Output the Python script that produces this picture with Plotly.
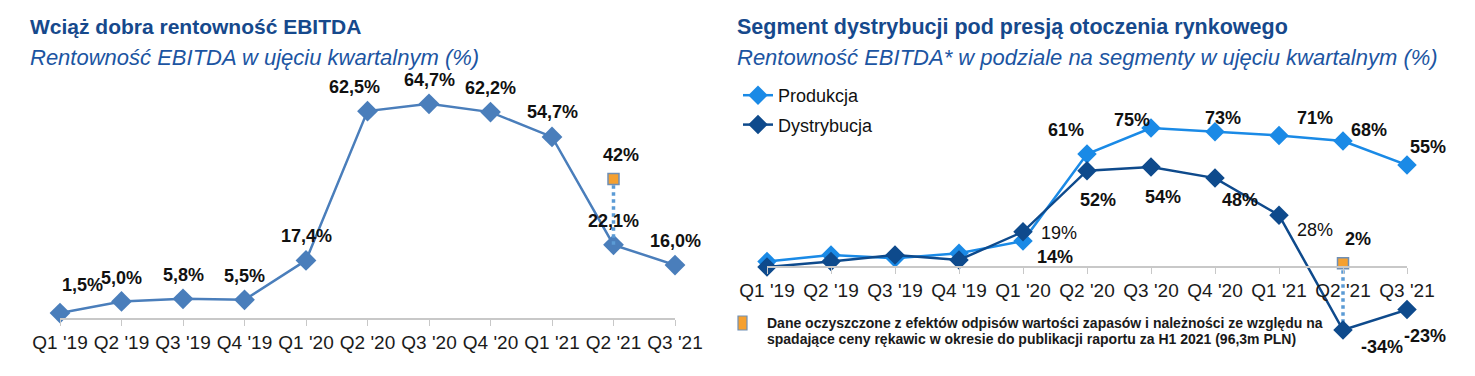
import plotly.graph_objects as go

# ---------------- data ----------------
quarters = ["Q1 '19", "Q2 '19", "Q3 '19", "Q4 '19", "Q1 '20", "Q2 '20",
            "Q3 '20", "Q4 '20", "Q1 '21", "Q2 '21", "Q3 '21"]

ebitda_margin = [1.5, 5.0, 5.8, 5.5, 17.4, 62.5, 64.7, 62.2, 54.7, 22.1, 16.0]
ebitda_labels = ["1,5%", "5,0%", "5,8%", "5,5%", "17,4%", "62,5%",
                 "64,7%", "62,2%", "54,7%", "22,1%", "16,0%"]
adjusted_quarter = "Q2 '21"
adjusted_ebitda = 42
adjusted_ebitda_label = "42%"

produkcja = [3, 6.5, 4.7, 7.4, 14, 61, 75, 73, 71, 68, 55]
produkcja_labels = ["", "", "", "", "14%", "61%", "75%", "73%", "71%", "68%", "55%"]
dystrybucja = [0, 3, 6.5, 3.8, 19, 52, 54, 48, 28, -34, -23]
dystrybucja_labels = ["", "", "", "", "19%", "52%", "54%", "48%", "28%", "-34%", "-23%"]
adjusted_dystrybucja = 2
adjusted_dystrybucja_label = "2%"

# ---------------- styling / label offsets (pixels) ----------------
W, H = 1475, 376
PAGE_OFFSET = 8  # default body margin of the html page

def px(x):
    return (x - PAGE_OFFSET) / W
def py(y):
    return (H - (y - PAGE_OFFSET)) / H

FONT = "Liberation Sans, Arial, sans-serif"
C_LEFT = "#4a7ebb"
C_PROD = "#1a8ae6"
C_DYST = "#0e4a8c"
C_DOT = "#5b9bd5"
C_ORANGE = "#f5a030"
C_TITLE = "#16498c"
C_SUB = "#1c55a2"

left_offsets = [(22, 28), (0, 23), (0, 24), (0, 24), (0, 24), (-13, 24),
                (0, 24), (0, 24), (0, 25), (0, 24), (0, 24)]
prod_offsets = [(0, 0)] * 4 + [(32, -16), (-21, 24), (-19, 8), (8, 14), (36, 17), (26, 11), (21, 18)]
dyst_offsets = [(0, 0)] * 4 + [(36, -1), (11, -29), (12, -30), (25, -22), (36, -15), (39, -17), (18, -26)]
dyst_bold = [True] * 11
dyst_bold[4] = False
dyst_bold[8] = False

fig = go.Figure()

# ---------- left chart ----------
fig.add_trace(go.Scatter(
    x=quarters, y=ebitda_margin, mode="lines+markers",
    line=dict(color=C_LEFT, width=2.5),
    marker=dict(symbol="diamond", size=16, color=C_LEFT),
    showlegend=False, xaxis="x", yaxis="y", cliponaxis=False))
fig.add_trace(go.Scatter(
    x=[adjusted_quarter, adjusted_quarter],
    y=[ebitda_margin[quarters.index(adjusted_quarter)], adjusted_ebitda],
    mode="lines", line=dict(color=C_DOT, width=3.5, dash="dot"),
    showlegend=False, hoverinfo="skip", xaxis="x", yaxis="y", cliponaxis=False))
fig.add_trace(go.Scatter(
    x=[adjusted_quarter], y=[adjusted_ebitda], mode="markers",
    marker=dict(symbol="square", size=11, color=C_ORANGE,
                line=dict(color="#6f8fb5", width=1.5)),
    showlegend=False, xaxis="x", yaxis="y", cliponaxis=False))

# ---------- right chart ----------
fig.add_trace(go.Scatter(
    x=quarters, y=produkcja, mode="lines+markers", name="Produkcja",
    line=dict(color=C_PROD, width=2.5),
    marker=dict(symbol="diamond", size=15, color=C_PROD),
    legendgroup="a", xaxis="x2", yaxis="y2", cliponaxis=False))
fig.add_trace(go.Scatter(
    x=[adjusted_quarter, adjusted_quarter],
    y=[adjusted_dystrybucja, dystrybucja[quarters.index(adjusted_quarter)]],
    mode="lines", line=dict(color=C_DOT, width=3.5, dash="dot"),
    showlegend=False, hoverinfo="skip", xaxis="x2", yaxis="y2", cliponaxis=False))
fig.add_trace(go.Scatter(
    x=quarters, y=dystrybucja, mode="lines+markers", name="Dystrybucja",
    line=dict(color=C_DYST, width=2.5),
    marker=dict(symbol="diamond", size=15, color=C_DYST),
    legendgroup="b", xaxis="x2", yaxis="y2", cliponaxis=False))
fig.add_trace(go.Scatter(
    x=[adjusted_quarter], y=[adjusted_dystrybucja], mode="markers",
    marker=dict(symbol="square", size=11, color=C_ORANGE,
                line=dict(color="#6f8fb5", width=1.5)),
    showlegend=False, xaxis="x2", yaxis="y2", cliponaxis=False))

annotations = []
lab_font = dict(family=FONT, size=18, color="#111111")
for q, v, t, (dx, dy) in zip(quarters, ebitda_margin, ebitda_labels, left_offsets):
    annotations.append(dict(x=q, y=v, xref="x", yref="y", text="<b>%s</b>" % t,
                            showarrow=False, xshift=dx, yshift=dy, font=lab_font))
annotations.append(dict(x=adjusted_quarter, y=adjusted_ebitda, xref="x", yref="y",
                        text="<b>%s</b>" % adjusted_ebitda_label, showarrow=False,
                        xshift=7, yshift=24, font=lab_font))
for q, v, t, (dx, dy) in zip(quarters, produkcja, produkcja_labels, prod_offsets):
    if t:
        annotations.append(dict(x=q, y=v, xref="x2", yref="y2", text="<b>%s</b>" % t,
                                showarrow=False, xshift=dx, yshift=dy, font=lab_font))
for q, v, t, (dx, dy), b in zip(quarters, dystrybucja, dystrybucja_labels, dyst_offsets, dyst_bold):
    if t:
        annotations.append(dict(x=q, y=v, xref="x2", yref="y2",
                                text=("<b>%s</b>" % t) if b else t,
                                showarrow=False, xshift=dx, yshift=dy, font=lab_font))
annotations.append(dict(x=adjusted_quarter, y=adjusted_dystrybucja, xref="x2", yref="y2",
                        text="<b>%s</b>" % adjusted_dystrybucja_label, showarrow=False,
                        xshift=15, yshift=24, font=lab_font))

# titles
annotations += [
    dict(x=px(28), y=py(27), xref="paper", yref="paper", xanchor="left", yanchor="middle",
         text="<b>Wciąż dobra rentowność EBITDA</b>", showarrow=False,
         font=dict(family=FONT, size=21, color=C_TITLE)),
    dict(x=px(28), y=py(57), xref="paper", yref="paper", xanchor="left", yanchor="middle",
         text="<i>Rentowność EBITDA w ujęciu kwartalnym (%)</i>", showarrow=False,
         font=dict(family=FONT, size=22, color=C_SUB)),
    dict(x=px(735), y=py(27), xref="paper", yref="paper", xanchor="left", yanchor="middle",
         text="<b>Segment dystrybucji pod presją otoczenia rynkowego</b>", showarrow=False,
         font=dict(family=FONT, size=21.5, color=C_TITLE)),
    dict(x=px(735), y=py(57), xref="paper", yref="paper", xanchor="left", yanchor="middle",
         text="<i>Rentowność EBITDA* w podziale na segmenty w ujęciu kwartalnym (%)</i>",
         showarrow=False, font=dict(family=FONT, size=22, color=C_SUB)),
    dict(x=px(765), y=py(323), xref="paper", yref="paper", xanchor="left", yanchor="middle",
         text="<b>Dane oczyszczone z efektów odpisów wartości zapasów i należności ze względu na</b>",
         showarrow=False, font=dict(family=FONT, size=14, color="#1a1a1a")),
    dict(x=px(765), y=py(339), xref="paper", yref="paper", xanchor="left", yanchor="middle",
         text="<b>spadające ceny rękawic w okresie do publikacji raportu za H1 2021 (96,3m PLN)</b>",
         showarrow=False, font=dict(family=FONT, size=14, color="#1a1a1a")),
]

shapes = [dict(type="rect", xref="paper", yref="paper",
               x0=px(738), x1=px(747), y0=py(330), y1=py(316),
               fillcolor=C_ORANGE, line=dict(color="#6f8fb5", width=1.2))]

axis_common = dict(type="category", categoryorder="array", categoryarray=quarters,
                   showgrid=False, zeroline=False, showline=True,
                   linecolor="#c8c8c8", linewidth=1.5, ticks="outside", ticklen=6,
                   tickcolor="#c8c8c8", tickwidth=1.2, automargin=False,
                   tickfont=dict(family=FONT, size=19, color="#1a1a1a"),
                   range=[0, 10], fixedrange=True)

fig.update_layout(
    width=W, height=H, margin=dict(l=0, r=0, t=0, b=0, autoexpand=False),
    paper_bgcolor="white", plot_bgcolor="rgba(0,0,0,0)",
    font=dict(family=FONT),
    xaxis=dict(domain=[px(60), px(675)], anchor="y", **axis_common),
    yaxis=dict(domain=[py(318), py(86.3)], range=[0, 70], visible=False, anchor="x"),
    xaxis2=dict(domain=[px(767), px(1407)], anchor="free", position=py(267), **axis_common),
    yaxis2=dict(domain=[py(341.1), py(118.8)], range=[-40, 80], visible=False, anchor="x2"),
    showlegend=True,
    legend=dict(x=px(738), y=py(77), xanchor="left", yanchor="top",
                font=dict(family=FONT, size=18, color="#111111"),
                bgcolor="rgba(0,0,0,0)", tracegroupgap=3, traceorder="grouped",
                itemwidth=30),
    annotations=annotations, shapes=shapes,
)

fig.write_html("out.html")
